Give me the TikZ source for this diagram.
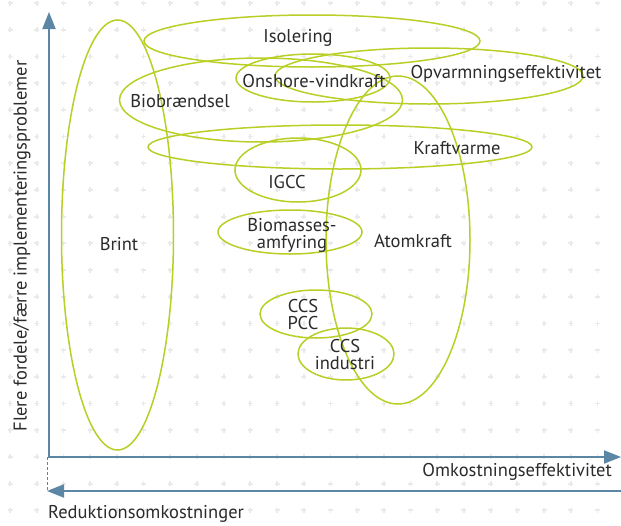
\documentclass[tikz,border=0pt]{standalone}
\usepackage{fontspec}
\setmainfont{PT Sans}
\usetikzlibrary{arrows.meta}
\definecolor{ellc}{HTML}{B9CF25}
\definecolor{axisc}{HTML}{5B87A5}
\definecolor{txtc}{HTML}{2B2B2B}
\definecolor{gridc}{HTML}{EAEAEA}
\begin{document}
\begin{tikzpicture}[x=1pt,y=-1pt,
  ell/.style={draw=ellc, line width=1.5pt},
  lbl/.style={text=txtc, font=\fontsize{18.5}{17}\selectfont, inner sep=0pt, align=center},
  axisline/.style={draw=axisc, line width=2pt},
  gridmark/.style={draw=gridc, line width=1.8pt},
  tip/.style={-{Triangle[width=13pt,length=17pt]}}]
\useasboundingbox[fill=white] (0,0) rectangle (621,525);
% background grid of plus marks
\foreach \i in {0,...,23} \foreach \j in {0,...,19} {
  \draw[gridmark] (10+26.7*\i, 3+26.7*\j) +(-2.5,0) -- +(2.5,0) +(0,-2.5) -- +(0,2.5);
}
% ellipses
\draw[ell] (117.5,235) ellipse[x radius=56pt, y radius=215pt];   % Brint
\draw[ell] (312,41) ellipse[x radius=168pt, y radius=26pt];      % Isolering
\draw[ell] (261,100) ellipse[x radius=141.5pt, y radius=42pt];   % Biobraendsel
\draw[ell] (313,78) ellipse[x radius=77pt, y radius=24pt];       % Onshore
\draw[ell] (429,76) ellipse[x radius=154pt, y radius=28pt];      % Opvarmning
\draw[ell] (340,147) ellipse[x radius=192pt, y radius=22pt];     % Kraftvarme
\draw[ell] (298,170) ellipse[x radius=63pt, y radius=32pt];      % IGCC
\draw[ell] (290,232) ellipse[x radius=72pt, y radius=22pt];      % Biomasse
\draw[ell] (398,240) ellipse[x radius=72pt, y radius=164pt];     % Atomkraft
\draw[ell] (316,314) ellipse[x radius=56pt, y radius=24pt];      % CCS PCC
\draw[ell] (346,354) ellipse[x radius=48pt, y radius=26pt];      % CCS industri
% labels
\node[lbl] (iso) at (298,38) {Isolering};
\node[lbl] (ons) at (314,81) {Onshore-vindkraft};
\node[lbl] (opv) at (506,74) {Opvarmningseffektivitet};
\node[lbl] (bio) at (180,101) {Biobrændsel};
\node[lbl] (kra) at (457,148) {Kraftvarme};
\node[lbl] (igcc) at (287,182) {IGCC};
\node[lbl] (bma) at (292,235) {Biomasses-\\amfyring};
\node[lbl] (bri) at (119,244) {Brint};
\node[lbl] (ato) at (413,241) {Atomkraft};
\node[lbl] (pcc) at (303,315) {CCS\\PCC};
\node[lbl] (ind) at (345,355) {CCS\\industri};
% axes
\coordinate (o) at (49,457);
\coordinate (ytop) at (49,12);
\coordinate (xstart) at (48,457);
\coordinate (xend) at (621,457);
\coordinate (bstart) at (621,491);
\coordinate (bend) at (47,491);
\coordinate (dtop) at (47,457);
\draw[axisline, tip] (o) -- (ytop);
\draw[axisline, tip] (xstart) -- (xend);
\draw[axisline, tip] (bstart) -- (bend);
\draw[draw=axisc, line width=1pt, dash pattern=on 3pt off 2pt] (dtop) -- (bend);
\node[lbl, anchor=east] (xl) at (612,472) {Omkostningseffektivitet};
\node[lbl, anchor=west] (rl) at (48,514) {Reduktionsomkostninger};
\node[lbl, rotate=90] (yl) at (22,246) {Flere fordele/færre implementeringsproblemer};
\end{tikzpicture}
\end{document}
